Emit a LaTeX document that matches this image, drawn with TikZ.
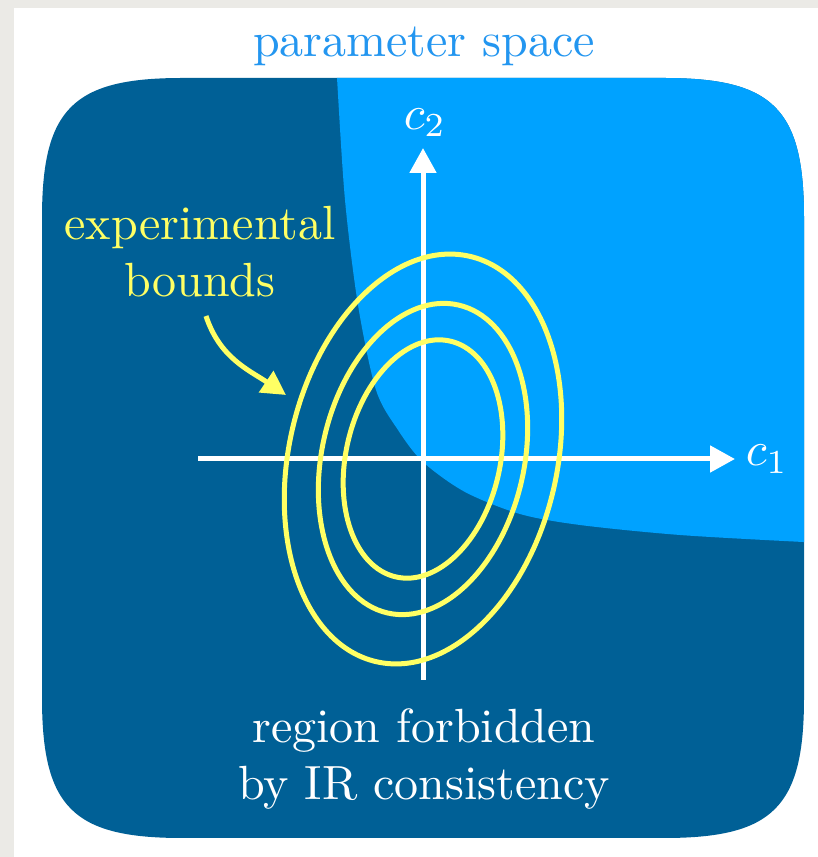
\documentclass[tikz,border=0pt]{standalone}
\usetikzlibrary{arrows.meta}
\definecolor{darkblue}{RGB}{0,96,150}
\definecolor{lightblue}{RGB}{0,162,255}
\definecolor{titleblue}{RGB}{35,150,240}
\definecolor{boundyellow}{RGB}{255,255,100}
\definecolor{graybg}{RGB}{235,234,230}
\begin{document}
\begin{tikzpicture}[x=1pt,y=1pt,
  lbl/.style={inner sep=0pt, scale=4.8, align=center, anchor=base},
  axisline/.style={white, line width=5pt, -{Triangle[length=25pt,width=26pt]}},
  bound/.style={boundyellow, line width=5pt},
]
\useasboundingbox (0,0) rectangle (818,857);
\fill[graybg] (0,0) rectangle (818,857);
\fill[white] (14,0) rectangle (818,849);
\begin{scope}
  \clip (182,779) -- (664,779)
     .. controls (773.2,779) and (804,748.2) .. (804,639)
     -- (804,159)
     .. controls (804,49.8) and (773.2,19) .. (664,19)
     -- (182,19)
     .. controls (72.8,19) and (42,49.8) .. (42,159)
     -- (42,639)
     .. controls (42,748.2) and (72.8,779) .. cycle;
  \fill[darkblue] (0,0) rectangle (818,857);
  \fill[lightblue] plot[smooth] coordinates {(336,797) (337,779) (345,657) (358,552) (376,467) (398,427) (423,395) (465,365) (520,343) (580,332) (680,322) (803,315) (830,314)} -- (830,800) -- cycle;
\end{scope}
\coordinate (xstart) at (198,398);
\coordinate (xend) at (735,398);
\coordinate (ystart) at (423,177);
\coordinate (yend) at (423,709);
\coordinate (origin) at (423,398);
\draw[axisline] (xstart) -- (xend);
\draw[axisline] (ystart) -- (yend);
\draw[bound, rotate around={-13:(origin)}] (origin) ellipse [x radius=134, y radius=208];
\draw[bound, rotate around={-13:(origin)}] (origin) ellipse [x radius=101, y radius=158];
\draw[bound, rotate around={-13:(origin)}] (origin) ellipse [x radius=77, y radius=121];
\node[lbl, text=titleblue] (title) at (424,800) {parameter space};
\node[lbl, text=boundyellow] (exp) at (200,560) {experimental\\bounds};
\node[lbl, text=white] (forb) at (424,57) {region forbidden\\by IR consistency};
\node[lbl, text=white, anchor=base west] (c1) at (745,391) {$c_1$};
\node[lbl, text=white, anchor=base west] (c2) at (403,727.5) {$c_2$};
\coordinate (arrstart) at (206,541);
\coordinate (arrend) at (286,462);
\draw[bound, -{Triangle[length=24pt,width=25pt]}] (arrstart) to[out=-72,in=146] (arrend);
\end{tikzpicture}
\end{document}
